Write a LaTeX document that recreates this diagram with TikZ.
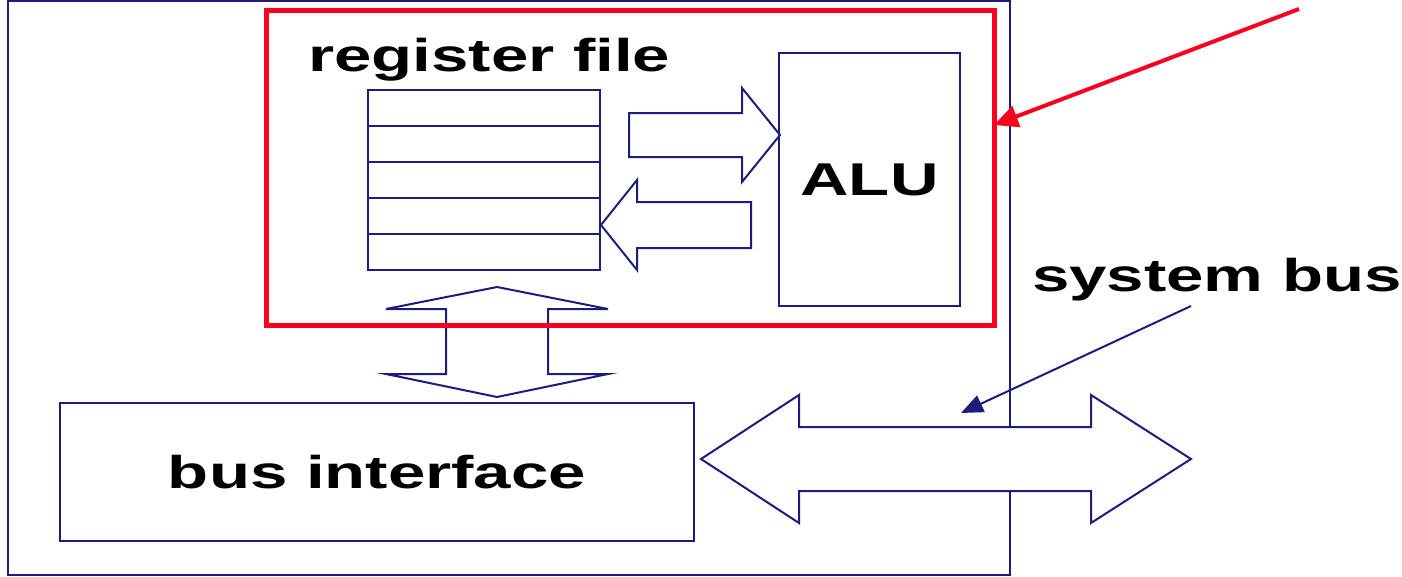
\documentclass[tikz,border=0pt]{standalone}
\usepackage{fontspec}
\usepackage{tikz}
\usetikzlibrary{arrows.meta}

\newfontfamily\diagfont[FakeStretch=1.46]{Liberation Sans}
\definecolor{navyline}{RGB}{28,28,122}
\definecolor{cpured}{RGB}{250,0,30}

\begin{document}
\begin{tikzpicture}[x=1pt, y=-1pt,
  box/.style={draw=navyline, line width=2pt, inner sep=0pt, outer sep=0pt},
  label/.style={font=\diagfont\bfseries\fontsize{46}{50}\selectfont, inner sep=0pt},
  blockarrow/.style={draw=navyline, line width=2pt, line join=miter}]

\useasboundingbox (0,0) rectangle (1402,576);

% Chip outline
\draw [navyline, line width=2pt] (8,1) rectangle (1010,575);

% Register file and ALU
\node [box, minimum width=232, minimum height=180] (regs) at (484,180) {};
\draw [navyline, line width=2pt] (368,126) -- (600,126);
\draw [navyline, line width=2pt] (368,162) -- (600,162);
\draw [navyline, line width=2pt] (368,198) -- (600,198);
\draw [navyline, line width=2pt] (368,234) -- (600,234);
\node [label, anchor=base west] (reglabel) at (308,71) {register file};

\node [box, minimum width=181, minimum height=253, label] (alu) at (869.5,179.5) {ALU};

% Data paths between registers and ALU
\draw [blockarrow] (629,113) -- (742,113) -- (742,88) -- (780,135)
  -- (742,182) -- (742,157) -- (629,157) -- cycle;
\draw [blockarrow] (751,202) -- (637,202) -- (637,180) -- (601,225)
  -- (637,270) -- (637,248) -- (751,248) -- cycle;

% Path down to the bus interface
\draw [blockarrow] (497,287) -- (608,309) -- (548,309) -- (548,374) -- (608,374)
  -- (497,397) -- (386,374) -- (446,374) -- (446,309) -- (386,309) -- cycle;

% CPU core
\node [draw=cpured, line width=5pt, inner sep=0pt, minimum width=728, minimum height=315]
  (core) at (630,167.5) {};

% Bus interface
\node [box, minimum width=634, minimum height=138, label] (busif) at (377,472) {bus interface};

% System bus
\draw [blockarrow, fill=white] (701,459) -- (799,395) -- (799,427) -- (1091,427)
  -- (1091,395) -- (1191,459) -- (1091,523) -- (1091,491) -- (799,491) -- (799,523) -- cycle;
\node [label, anchor=base west] (buslabel) at (1032,291) {system bus};

% Pointers
\coordinate (bustail) at (1191,306);
\coordinate (bustip) at (961,413);
\draw [navyline, line width=2pt, -{Triangle[length=22pt, width=18pt]}] (bustail) -- (bustip);

\coordinate (coretail) at (1299,9);
\coordinate (coretip) at (994,125);
\draw [cpured, line width=4pt, -{Triangle[length=24pt, width=22pt]}] (coretail) -- (coretip);
\end{tikzpicture}
\end{document}
